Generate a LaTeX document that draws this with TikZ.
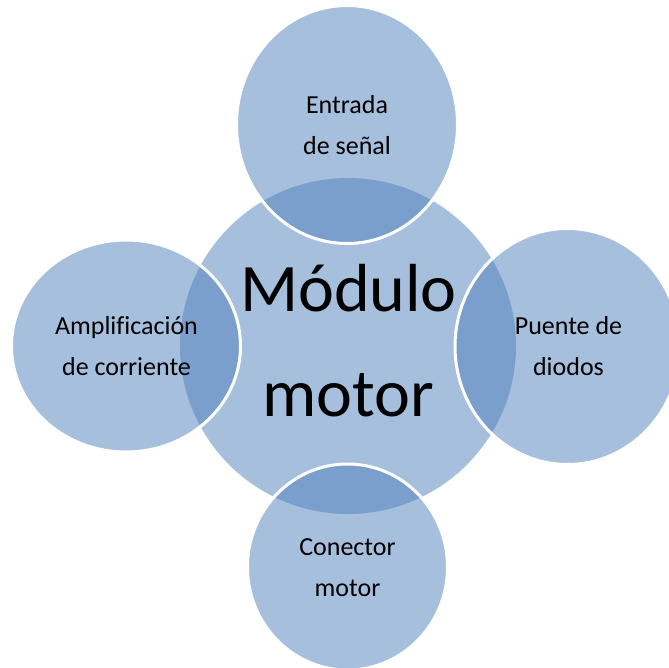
\documentclass[tikz,border=0pt]{standalone}
\usepackage{fontspec}
\setmainfont{Carlito}[Ligatures=NoCommon]
\definecolor{accentblue}{HTML}{4F81BD}
\begin{document}
\begin{tikzpicture}[x=1pt,y=-1pt,
  hub/.style={fill=accentblue, fill opacity=0.5},
  sat/.style={fill=accentblue, fill opacity=0.5, draw=white, line width=3pt},
  smalltxt/.style={align=center, inner sep=0pt, text=black, text opacity=1,
    font=\fontsize{26}{40.5}\selectfont},
  bigtxt/.style={align=center, inner sep=0pt, text=black, text opacity=1,
    font=\fontsize{68}{105}\selectfont}]
\clip (0,0) rectangle (669,668);
\fill[white] (0,0) rectangle (669,668);
% centres
\coordinate (cM) at (348,346);
\coordinate (cT) at (347,124.5);
\coordinate (cL) at (126,346);
\coordinate (cR) at (567.5,346.5);
\coordinate (cB) at (347.5,567);
% central circle
\fill[hub] (cM) circle [radius=168pt];
% satellites
\draw[sat] (cT) ellipse [x radius=110.5pt, y radius=119pt];
\draw[sat] (cL) ellipse [x radius=114.5pt, y radius=106pt];
\draw[sat] (cR) ellipse [x radius=112.5pt, y radius=118pt];
\draw[sat] (cB) ellipse [x radius=100pt, y radius=103pt];
% texts
\node[bigtxt] (tM) at (348.5,341) {Módulo\\motor};
\node[smalltxt] (tT) at (347,125) {Entrada\\de señal};
\node[smalltxt] (tL) at (126.5,346) {Amplificación\\de corriente};
\node[smalltxt] (tR) at (568.5,346) {Puente de\\diodos};
\node[smalltxt] (tB) at (347.5,567.5) {Conector\\motor};
\end{tikzpicture}
\end{document}
